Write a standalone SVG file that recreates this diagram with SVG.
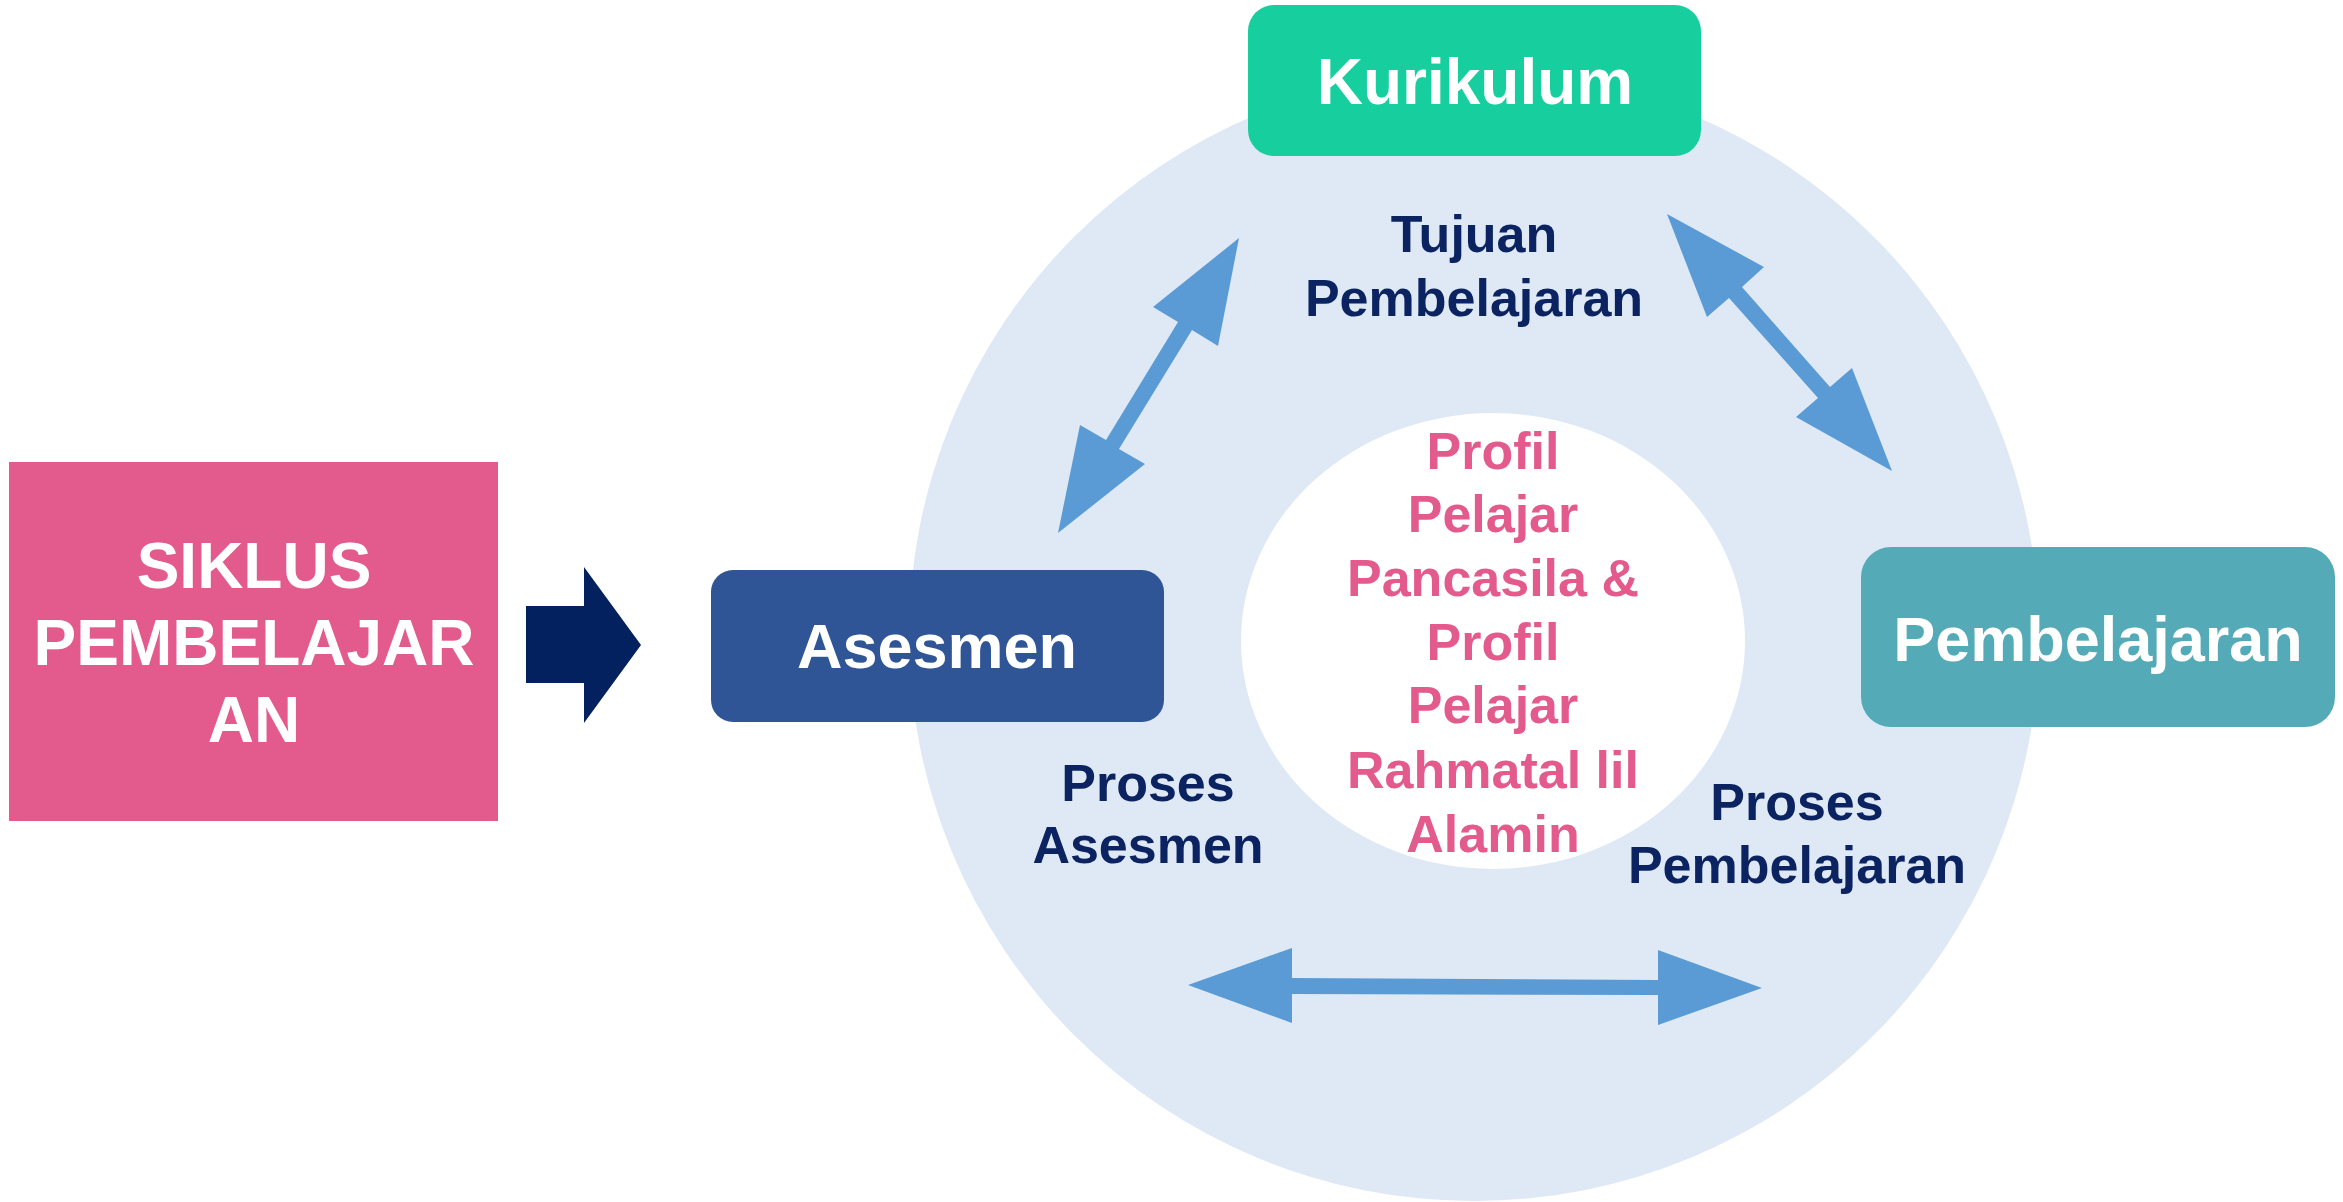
<svg xmlns="http://www.w3.org/2000/svg" width="2343" height="1202" viewBox="0 0 2343 1202">
<style>
.t{font-family:"Liberation Sans",Arial,sans-serif;font-weight:bold;text-anchor:middle}
.w{fill:#FFFFFF}
.n{fill:#0B2361}
.p{fill:#E35A8C}
.conn{fill:#5B9BD5}
</style>
<rect width="2343" height="1202" fill="#FFFFFF"/>
<g id="cycle-bg">
<circle cx="1474" cy="636" r="565" fill="#DEE9F5"/>
<ellipse cx="1493" cy="641" rx="252" ry="228" fill="#FFFFFF"/>
</g>
<g id="siklus">
<rect x="9" y="462" width="489" height="359" fill="#E35A8C"/>
<text class="t w" font-size="64" x="254" y="588">SIKLUS</text>
<text class="t w" font-size="64" x="254" y="665">PEMBELAJAR</text>
<text class="t w" font-size="64" x="254" y="742">AN</text>
</g>
<g id="connectors">
<polygon fill="#03205F" points="526,606 584,606 584,567 641,645 584,723 584,683 526,683"/>
<polygon class="conn" points="1239,238 1218,346 1192,330 1119,449 1145,464 1058,533 1080,425 1106,440 1178,322 1153,307"/>
<polygon class="conn" points="1667,214 1764,267 1742,287 1830,387 1852,368 1892,471 1796,417 1818,398 1729,298 1707,317"/>
<polygon class="conn" points="1188,985 1292,948 1292,978 1658,980 1658,950 1762,988 1658,1025 1658,995 1292,994 1292,1023"/>
</g>
<g id="asesmen">
<rect x="711" y="570" width="453" height="152" rx="22" fill="#2F5597"/>
<text class="t w" font-size="63" x="937" y="668">Asesmen</text>
</g>
<g id="kurikulum">
<rect x="1248" y="5" width="453" height="151" rx="26" fill="#17CF9E"/>
<text class="t w" font-size="64" x="1475" y="104">Kurikulum</text>
</g>
<g id="pembelajaran">
<rect x="1861" y="547" width="474" height="180" rx="30" fill="#54ABB7"/>
<text class="t w" font-size="63" x="2098" y="661">Pembelajaran</text>
</g>
<g id="tujuan">
<text class="t n" font-size="52" x="1474" y="252">Tujuan</text>
<text class="t n" font-size="52" x="1474" y="316">Pembelajaran</text>
</g>
<g id="proses-asesmen">
<text class="t n" font-size="52" x="1148" y="801">Proses</text>
<text class="t n" font-size="52" x="1148" y="863">Asesmen</text>
</g>
<g id="proses-pembelajaran">
<text class="t n" font-size="52" x="1797" y="820">Proses</text>
<text class="t n" font-size="52" x="1797" y="883">Pembelajaran</text>
</g>
<g id="profil">
<text class="t p" font-size="52" x="1493" y="469">Profil</text>
<text class="t p" font-size="52" x="1493" y="532">Pelajar</text>
<text class="t p" font-size="52" x="1493" y="596">Pancasila &amp;</text>
<text class="t p" font-size="52" x="1493" y="660">Profil</text>
<text class="t p" font-size="52" x="1493" y="723">Pelajar</text>
<text class="t p" font-size="52" x="1493" y="788">Rahmatal lil</text>
<text class="t p" font-size="52" x="1493" y="852">Alamin</text>
</g>
</svg>
